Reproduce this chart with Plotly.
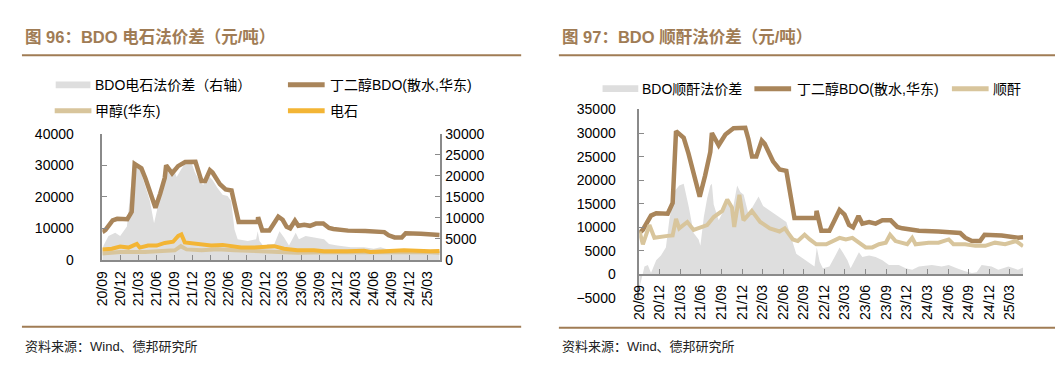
import plotly.graph_objects as go

# ---------------- data: left panel (BDO 电石法) ----------------
bdo_dates = ["2020-09-01","2020-09-17","2020-10-23","2020-11-15","2021-01-05","2021-01-27","2021-02-11",
             "2021-03-17","2021-04-07","2021-05-08","2021-05-27","2021-06-20","2021-07-13","2021-07-20",
             "2021-08-19","2021-09-18","2021-10-24","2021-12-15","2021-12-29","2022-01-14","2022-02-02",
             "2022-02-26","2022-03-11","2022-04-17","2022-05-16","2022-06-15","2022-06-22","2022-07-07",
             "2022-07-21","2022-10-25","2022-10-27","2022-11-17","2022-12-23","2023-01-15","2023-02-06",
             "2023-02-28","2023-03-20","2023-04-07","2023-05-01","2023-05-18","2023-06-17","2023-07-16",
             "2023-08-15","2023-09-21","2023-10-20","2023-11-11","2024-01-24","2024-04-20","2024-07-25",
             "2024-08-16","2024-09-15","2024-10-21","2024-11-10","2025-01-25","2025-04-07","2025-04-30"]
bdo_price = [8800,9500,12500,13000,12900,15200,30400,
             29000,25700,20300,16500,21000,26000,30000,
             27400,29700,31000,31100,28700,25000,25000,
             28400,27700,24000,22300,22000,20000,15200,
             12000,12000,13500,9300,9300,11500,13700,
             12700,10500,10000,12400,10800,11150,10800,
             11500,11500,10100,9800,9270,9130,8800,
             7800,7100,7100,8450,8300,7800,7900]

carb_spread_dates = ["2020-09-01","2020-09-07","2020-10-02","2020-11-05","2020-11-30","2021-01-03","2021-01-28",
                     "2021-02-05","2021-02-14","2021-03-09","2021-04-04","2021-04-29","2021-05-20","2021-06-18",
                     "2021-07-13","2021-08-08","2021-08-24","2021-09-11","2021-10-05","2021-10-31","2021-11-25",
                     "2021-12-12","2022-01-06","2022-01-23","2022-02-16","2022-03-12","2022-04-06","2022-05-01",
                     "2022-05-26","2022-06-13","2022-06-30","2022-07-16","2022-09-05","2022-10-17","2022-10-25",
                     "2022-11-03","2022-11-28","2022-12-14","2023-01-17","2023-02-12","2023-03-07","2023-04-01",
                     "2023-05-05","2023-05-21","2023-06-24","2023-08-05","2023-09-25","2023-10-20","2023-12-01",
                     "2024-02-07","2024-04-13","2024-06-02","2024-07-06","2024-08-25","2024-10-15","2024-12-21",
                     "2025-03-13","2025-04-30"]
carb_spread = [2300,3400,5700,6430,5700,7950,19700,
               23900,23100,21600,17800,14000,8700,14800,
               21600,20450,22000,19700,21600,23500,23100,
               20800,18600,17800,20100,18900,17000,15500,
               15200,14000,7200,4900,4500,4900,6800,
               4500,3000,3800,3800,6800,5300,3400,
               6430,4900,5700,5300,4900,3800,3400,
               3000,3000,2650,3000,2270,2270,1900,
               2100,1900]

carbide_dates = ["2020-09-01","2020-10-19","2020-11-30","2021-01-11","2021-02-22","2021-03-09","2021-04-20",
                 "2021-06-02","2021-07-13","2021-08-24","2021-09-19","2021-10-05","2021-10-22","2021-11-25",
                 "2022-01-15","2022-03-04","2022-05-01","2022-06-13","2022-08-02","2022-10-08","2022-11-28",
                 "2023-01-17","2023-03-07","2023-05-13","2023-08-05","2023-09-25","2024-01-21","2024-04-13",
                 "2024-05-16","2024-08-25","2024-11-01","2025-03-13","2025-04-30"]
carbide = [3300,3540,4240,3900,5050,3900,4540,
           4540,5360,5750,7580,8080,5550,5350,
           4750,4540,4750,4240,3900,3900,4040,
           4340,3540,3030,3030,2720,2720,2930,
           2530,2720,3030,2720,2800]

methanol_dates = ["2020-09-01","2020-11-30","2021-04-04","2021-06-27","2021-09-02","2021-10-02","2021-10-31",
                  "2022-01-15","2022-04-06","2022-06-30","2022-11-11","2023-03-07","2023-05-13","2023-09-25",
                  "2024-01-21","2024-06-02","2024-10-15","2025-03-13","2025-04-30"]
methanol = [2000,2520,2520,2730,3030,4330,3330,
            3030,3330,3030,2600,2520,2300,2400,
            2450,2400,2300,2400,2300]

# ---------------- data: right panel (BDO 顺酐法) ----------------
ma_spread_dates = ["2020-09-01","2020-09-10","2020-09-24","2020-10-09","2020-10-23","2020-11-15","2020-12-06",
                   "2020-12-28","2021-01-12","2021-02-04","2021-02-25","2021-03-17","2021-04-09","2021-04-30",
                   "2021-05-22","2021-05-30","2021-06-14","2021-06-29","2021-07-13","2021-07-20","2021-07-28",
                   "2021-08-19","2021-09-11","2021-10-02","2021-10-17","2021-11-09","2021-11-23","2021-12-08",
                   "2021-12-29","2022-01-21","2022-02-12","2022-03-04","2022-04-03","2022-04-25","2022-05-16",
                   "2022-06-15","2022-07-07","2022-07-29","2022-08-28","2022-09-27","2022-10-18","2022-10-28",
                   "2022-11-10","2022-11-24","2022-12-23","2023-01-15","2023-02-06","2023-02-20","2023-03-13",
                   "2023-03-27","2023-04-19","2023-05-03","2023-05-18","2023-06-17","2023-07-16","2023-08-15",
                   "2023-09-13","2023-10-27","2023-11-26","2023-12-25","2024-01-24","2024-03-21","2024-05-04",
                   "2024-06-04","2024-07-10","2024-08-16","2024-09-15","2024-10-06","2024-10-28","2024-12-11",
                   "2025-01-10","2025-02-24","2025-04-07","2025-04-30"]
ma_spread = [-3000,-1350,1700,2000,350,3040,4050,
             5740,11500,17580,18900,19270,14200,8800,
             7440,6080,12170,16200,18900,19270,14860,
             11500,13500,15550,12840,18900,17500,16900,
             12840,14860,16560,14540,13500,12840,12170,
             11150,7780,4400,3380,2370,1690,5740,
             2700,1350,1690,3710,5740,4730,3040,
             1350,3380,4730,3710,4060,3710,3040,
             2030,2030,1350,1010,1690,2030,1690,
             2030,1350,680,340,500,2030,1690,
             1010,1690,1010,1500]

ma_dates = ["2020-09-02","2020-09-17","2020-10-16","2020-11-07","2021-01-05","2021-01-27","2021-02-11",
            "2021-02-25","2021-04-02","2021-04-30","2021-06-29","2021-07-28","2021-09-04","2021-09-26",
            "2021-10-17","2021-10-27","2021-11-19","2021-12-07","2022-01-13","2022-02-19","2022-04-03",
            "2022-05-16","2022-06-08","2022-07-14","2022-08-05","2022-09-04","2022-09-27","2022-10-26",
            "2022-12-09","2023-01-07","2023-02-06","2023-03-06","2023-04-04","2023-05-03","2023-06-02",
            "2023-07-01","2023-07-31","2023-08-30","2023-09-18","2023-10-12","2023-11-04","2023-12-03",
            "2023-12-25","2024-01-09","2024-03-07","2024-04-20","2024-06-04","2024-06-25","2024-08-16",
            "2024-09-30","2024-11-13","2024-12-26","2025-02-09","2025-03-30","2025-04-30"]
ma_price = [9100,6400,10500,7800,8200,8300,11800,
            9800,11150,9470,10500,12200,13500,15900,
            14200,10100,16900,11500,13500,11150,9800,
            9130,9800,7440,7100,8450,7440,6420,
            6420,7100,7780,7440,7780,6760,5750,
            5750,6420,6760,8450,7100,6760,6420,
            7780,6420,6760,6760,7440,6420,6420,
            6080,6080,6760,6420,7100,6000]

# ---------------- text ----------------
title_left = "<b>图 96：BDO 电石法价差（元/吨）</b>"
title_right = "<b>图 97：BDO 顺酐法价差（元/吨）</b>"
source_text = "资料来源：Wind、德邦研究所"
names_left = ["BDO电石法价差（右轴）", "丁二醇BDO(散水,华东)", "甲醇(华东)", "电石"]
names_right = ["BDO顺酐法价差", "丁二醇BDO(散水,华东)", "顺酐"]

# ---------------- style ----------------
W, H = 1063, 367
BROWN = "#A9855A"
TAN = "#D8C59C"
YELLOW = "#F3B535"
GRAY = "#DEDEDE"
RULE = "#A07C55"
AXIS = "#8A8A8A"
FONT = "Liberation Sans, Arial, Noto Sans CJK SC, sans-serif"

def px(x):
    return x / W

def py(y):
    return 1 - y / H

fig = go.Figure()

# left panel traces
fig.add_trace(go.Scatter(x=carb_spread_dates, y=carb_spread, mode="lines", fill="tozeroy",
                         line=dict(width=0, color=GRAY), fillcolor=GRAY, xaxis="x", yaxis="y",
                         showlegend=False))
fig.add_trace(go.Scatter(x=bdo_dates, y=bdo_price, mode="lines", line=dict(color=BROWN, width=4.5),
                         xaxis="x", yaxis="y2", showlegend=False))
fig.add_trace(go.Scatter(x=methanol_dates, y=methanol, mode="lines", line=dict(color=TAN, width=4),
                         xaxis="x", yaxis="y2", showlegend=False))
fig.add_trace(go.Scatter(x=carbide_dates, y=carbide, mode="lines", line=dict(color=YELLOW, width=4),
                         xaxis="x", yaxis="y2", showlegend=False))

# right panel traces
fig.add_trace(go.Scatter(x=ma_spread_dates, y=ma_spread, mode="lines", fill="tozeroy",
                         line=dict(width=0, color=GRAY), fillcolor=GRAY, xaxis="x2", yaxis="y3",
                         showlegend=False))
fig.add_trace(go.Scatter(x=bdo_dates, y=bdo_price, mode="lines", line=dict(color=BROWN, width=4.5),
                         xaxis="x2", yaxis="y3", showlegend=False))
fig.add_trace(go.Scatter(x=ma_dates, y=ma_price, mode="lines", line=dict(color=TAN, width=4),
                         xaxis="x2", yaxis="y3", showlegend=False))

tickfont = dict(family=FONT, size=14, color="#000000")
x_range = ["2020-09-01", "2025-05-01"]

L_dom_x = [px(87), px(427)]
L_dom_y = [py(255), py(123)]
R_dom_x = [px(628), px(1015)]
R_dom_y = [py(295), py(97.7)]
r_ymin, r_ymax = -5000, 35000
x2_pos = R_dom_y[0] + (0 - r_ymin) / (r_ymax - r_ymin) * (R_dom_y[1] - R_dom_y[0])

common_x = dict(type="date", range=x_range, tick0="2020-09-01", dtick="M3", tickformat="%y/%m",
                tickangle=-90, ticks="inside", ticklen=5, tickcolor=AXIS, showline=True, linecolor=AXIS,
                linewidth=1.5, showgrid=False, zeroline=False, tickfont=tickfont, ticklabelstandoff=4)

common_y = dict(ticks="inside", ticklen=5, tickcolor=AXIS, showline=True, linecolor=AXIS, linewidth=1.5,
                showgrid=False, zeroline=False, tickfont=tickfont, tickformat="d")

fig.update_layout(
    width=W, height=H, margin=dict(l=0, r=0, t=0, b=0),
    paper_bgcolor="white", plot_bgcolor="rgba(0,0,0,0)",
    showlegend=False,
    xaxis=dict(domain=L_dom_x, anchor="y", **common_x),
    yaxis=dict(domain=L_dom_y, anchor="x", side="right", range=[0, 30000], dtick=5000,
               ticklabelstandoff=1, **common_y),
    yaxis2=dict(overlaying="y", anchor="x", side="left", range=[0, 40000], dtick=10000,
                ticklabelstandoff=24, **common_y),
    xaxis2=dict(domain=R_dom_x, anchor="free", position=x2_pos, **common_x),
    yaxis3=dict(domain=R_dom_y, anchor="x2", side="left", range=[r_ymin, r_ymax], dtick=5000,
                ticklabelstandoff=19, **common_y),
)

shapes = []
annotations = []

def rule(x0, x1, y):
    shapes.append(dict(type="line", xref="paper", yref="paper", x0=px(x0), x1=px(x1), y0=py(y), y1=py(y),
                       line=dict(color=RULE, width=2)))

def text(x, y, s, size=14, color="#000000", anchor="left"):
    annotations.append(dict(xref="paper", yref="paper", x=px(x), y=py(y), text=s, showarrow=False,
                            xanchor=anchor, yanchor="middle", font=dict(family=FONT, size=size, color=color)))

def leg_line(x0, x1, y, color, w):
    shapes.append(dict(type="line", xref="paper", yref="paper", x0=px(x0), x1=px(x1), y0=py(y), y1=py(y),
                       line=dict(color=color, width=w)))

def leg_box(x0, x1, y, color):
    shapes.append(dict(type="rect", xref="paper", yref="paper", x0=px(x0), x1=px(x1), y0=py(y + 3.5),
                       y1=py(y - 3.5), line=dict(width=0), fillcolor=color))

# titles and rules
text(7, 21, title_left, size=16.5, color=RULE)
text(548, 21, title_right, size=16.5, color=RULE)
rule(6, 509, 41)
rule(547, 1047, 41)
rule(6, 509, 325)
rule(547, 1047, 326)
text(7, 346, source_text, size=13, color="#222222")
text(548, 346, source_text, size=13, color="#222222")

# left legend
leg_box(40, 75, 72, GRAY)
text(78, 72, names_left[0], size=14)
leg_line(274, 311, 72, BROWN, 5)
text(314, 72, names_left[1], size=14)
leg_line(39, 76, 99, TAN, 5)
text(78, 99, names_left[2], size=14)
leg_line(274, 311, 99, YELLOW, 5)
text(314, 99, names_left[3], size=14)

# right legend
leg_box(591, 627, 76, GRAY)
text(629, 76, names_right[0], size=14)
leg_line(744, 781, 76, BROWN, 5)
text(785, 76, names_right[1], size=14)
leg_line(943, 980, 76, TAN, 5)
text(982, 76, names_right[2], size=14)

fig.update_layout(shapes=shapes, annotations=annotations)

fig.write_html("out.html")
